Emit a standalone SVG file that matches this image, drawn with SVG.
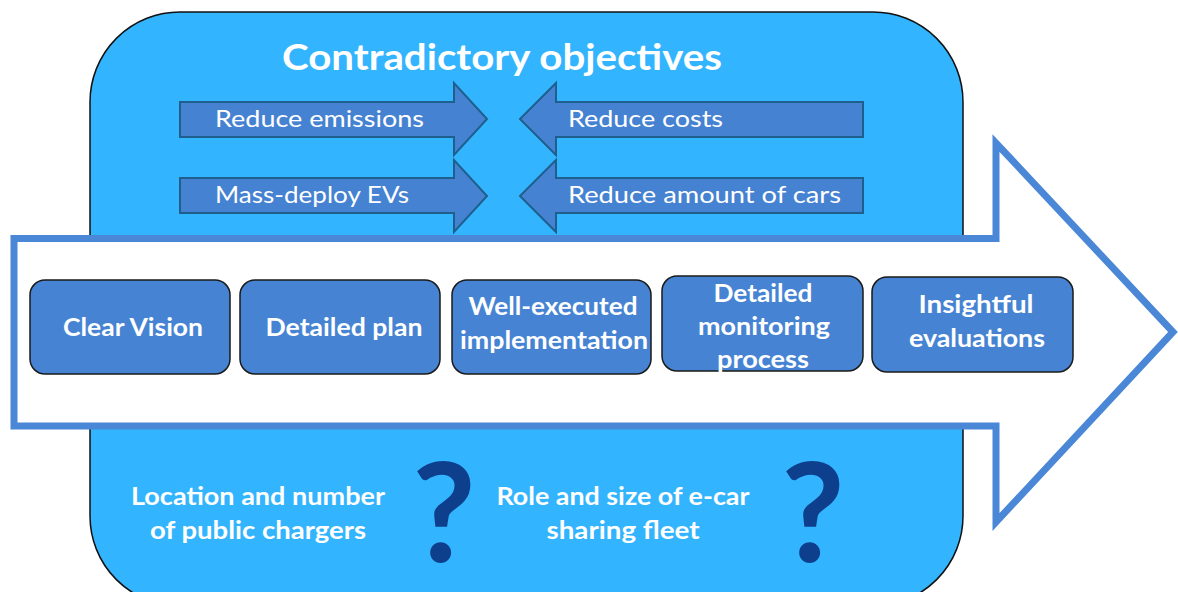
<svg xmlns="http://www.w3.org/2000/svg" width="1178" height="592" viewBox="0 0 1178 592">
<style>
.bg{fill:#33B4FE;stroke:#111;stroke-width:1.5}
.big{fill:#fff;stroke:#4A87D6;stroke-width:7;stroke-linejoin:miter}
.sm{fill:#4682D2;stroke:#1E5F8E;stroke-width:2}
.node{fill:#4684D3;stroke:#1a1a1a;stroke-width:1.5}
.t{font-family:Lato,"Open Sans","Liberation Sans",sans-serif;fill:#fff}
.b{font-weight:bold}
.q{font-family:Lato,"Open Sans","Liberation Sans",sans-serif;font-weight:bold;fill:#0D3F8C;font-size:138px}
</style>
<rect class="bg" x="90" y="12" width="873" height="594" rx="90" ry="90"/>
<text class="t b" x="502" y="70" font-size="36" text-anchor="middle" textLength="440" lengthAdjust="spacingAndGlyphs">Contradictory objectives</text>
<g id="connectors">
<polygon class="sm" points="180,102 454,102 454,83 487,119 454,155 454,137 180,137"/>
<polygon class="sm" points="180,178 454,178 454,160 487,196 454,232 454,213 180,213"/>
<polygon class="sm" points="863,102 556,102 556,83 520,119 556,155 556,137 863,137"/>
<polygon class="sm" points="863,178 556,178 556,160 520,196 556,232 556,213 863,213"/>
</g>
<g id="obj-emissions"><text class="t" x="215" y="127" font-size="24" textLength="209" lengthAdjust="spacingAndGlyphs">Reduce emissions</text></g>
<g id="obj-evs"><text class="t" x="215" y="203" font-size="24" textLength="194" lengthAdjust="spacingAndGlyphs">Mass-deploy EVs</text></g>
<g id="obj-costs"><text class="t" x="568" y="127" font-size="24" textLength="155" lengthAdjust="spacingAndGlyphs">Reduce costs</text></g>
<g id="obj-cars"><text class="t" x="568" y="203" font-size="24" textLength="273" lengthAdjust="spacingAndGlyphs">Reduce amount of cars</text></g>
<g id="process-arrow">
<polygon class="big" points="14,238.5 996,238.5 996,143 1173,332 996,522 996,426 14,426"/>
</g>
<g id="n1"><rect class="node" x="30" y="280" width="200" height="94" rx="15"/>
<text class="t b" x="133" y="336" font-size="24" text-anchor="middle" textLength="140" lengthAdjust="spacingAndGlyphs">Clear Vision</text></g>
<g id="n2"><rect class="node" x="240" y="280" width="200" height="94" rx="15"/>
<text class="t b" x="344" y="336" font-size="24" text-anchor="middle" textLength="157" lengthAdjust="spacingAndGlyphs">Detailed plan</text></g>
<g id="n3"><rect class="node" x="452" y="280" width="199" height="94" rx="15"/>
<text class="t b" x="553" y="315" font-size="24" text-anchor="middle" textLength="169" lengthAdjust="spacingAndGlyphs">Well-executed</text>
<text class="t b" x="554" y="349" font-size="24" text-anchor="middle" textLength="188" lengthAdjust="spacingAndGlyphs">implementation</text></g>
<g id="n4"><rect class="node" x="662" y="276" width="201" height="95" rx="15"/>
<text class="t b" x="763" y="302" font-size="24" text-anchor="middle" textLength="99" lengthAdjust="spacingAndGlyphs">Detailed</text>
<text class="t b" x="764" y="335" font-size="24" text-anchor="middle" textLength="132" lengthAdjust="spacingAndGlyphs">monitoring</text>
<text class="t b" x="763" y="368" font-size="24" text-anchor="middle" textLength="92" lengthAdjust="spacingAndGlyphs">process</text></g>
<g id="n5"><rect class="node" x="872" y="277" width="201" height="95" rx="15"/>
<text class="t b" x="976" y="313" font-size="24" text-anchor="middle" textLength="115" lengthAdjust="spacingAndGlyphs">Insightful</text>
<text class="t b" x="977" y="347" font-size="24" text-anchor="middle" textLength="136" lengthAdjust="spacingAndGlyphs">evaluations</text></g>
<g id="q1">
<text class="t b" x="258" y="505" font-size="24" text-anchor="middle" textLength="254" lengthAdjust="spacingAndGlyphs">Location and number</text>
<text class="t b" x="258" y="539" font-size="24" text-anchor="middle" textLength="216" lengthAdjust="spacingAndGlyphs">of public chargers</text>
<text class="q" x="444" y="562" text-anchor="middle">?</text></g>
<g id="q2">
<text class="t b" x="623" y="505" font-size="24" text-anchor="middle" textLength="253" lengthAdjust="spacingAndGlyphs">Role and size of e-car</text>
<text class="t b" x="623" y="539" font-size="24" text-anchor="middle" textLength="153" lengthAdjust="spacingAndGlyphs">sharing fleet</text>
<text class="q" x="813" y="562" text-anchor="middle">?</text></g>
</svg>
